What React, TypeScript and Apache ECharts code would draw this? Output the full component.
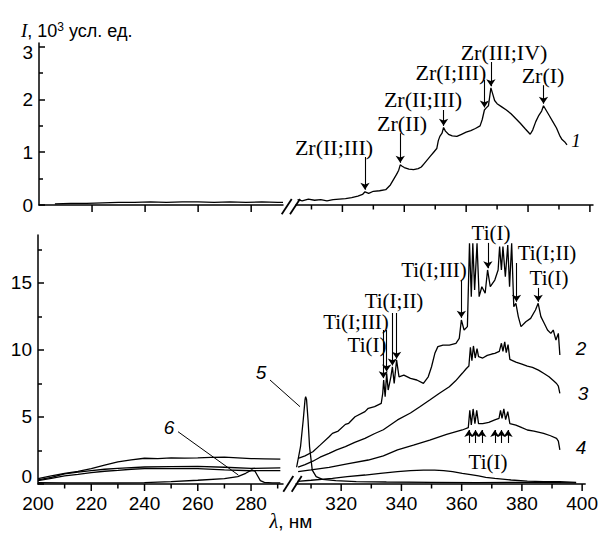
import { useEffect, useRef } from 'react';
import * as echarts from 'echarts';

// ---------- data (wavelength nm, intensity) ----------
// top panel, curve 1 (10^3 arb. units)
const curve1Left: number[][] = [[206,0.02],[212,0.03],[218,0.03],[224,0.04],[230,0.05],[236,0.05],[242,0.06],[248,0.05],[254,0.06],[260,0.06],[266,0.05],[272,0.06],[278,0.05],[284,0.06],[290,0.05],[292,0.05]];
const curve1Right: number[][] = [[305.5,0.10],[307,0.08],[309,0.11],[311,0.09],[313,0.1],[315,0.08],[317,0.1],[319,0.11],[321,0.12],[323,0.14],[325,0.17],[326.5,0.2],[327.3,0.25],[328.5,0.22],[330,0.26],[332,0.27],[334,0.29],[335.5,0.38],[336.5,0.48],[337.5,0.58],[338.2,0.66],[338.7,0.76],[339.2,0.74],[340,0.71],[341.5,0.68],[343,0.67],[344.5,0.69],[345.5,0.72],[346.5,0.79],[347.5,0.86],[348.5,0.93],[349.5,1.0],[350.5,1.07],[351,1.22],[351.5,1.30],[352.2,1.36],[352.7,1.47],[353.3,1.40],[354.3,1.34],[355.5,1.31],[357,1.30],[358.5,1.34],[360,1.38],[361.5,1.41],[363,1.45],[364.5,1.50],[365.2,1.62],[365.9,1.80],[366.5,1.84],[367.2,1.88],[367.6,2.05],[368,2.22],[368.6,2.10],[369.2,1.98],[370,1.92],[371.5,1.86],[373,1.80],[374.5,1.73],[376,1.64],[377.5,1.55],[379,1.45],[380.7,1.34],[381.5,1.42],[382.5,1.58],[383.5,1.70],[384.4,1.78],[385,1.88],[385.8,1.80],[386.8,1.70],[388,1.58],[389.2,1.46],[390.2,1.32],[391,1.24],[391.8,1.20],[392.6,1.14]];

// bottom panel
const curve2Left: number[][] = [[200,0.4],[205,0.6],[210,0.8],[215,0.95],[220,1.15],[225,1.4],[230,1.65],[235,1.8],[240,1.92],[245,1.9],[250,1.95],[255,1.93],[260,1.95],[265,1.98],[270,2.0],[275,1.95],[280,1.9],[285,1.88],[291,1.85]];
const curve3Left: number[][] = [[200,0.3],[205,0.5],[210,0.75],[215,0.88],[220,1.0],[225,1.1],[230,1.17],[235,1.22],[240,1.27],[250,1.3],[260,1.32],[270,1.25],[280,1.17],[291,1.2]];
const curve4Left: number[][] = [[200,0.25],[205,0.42],[210,0.6],[215,0.72],[220,0.85],[225,0.95],[230,1.02],[235,1.1],[240,1.15],[250,1.15],[260,1.15],[270,1.05],[280,0.99],[291,1.0]];
const curve6Left: number[][] = [[200,0.1],[210,0.09],[220,0.08],[230,0.09],[240,0.1],[250,0.18],[260,0.28],[270,0.4],[275,0.55],[278,0.8],[280.3,1.05],[281.5,0.95],[282.5,0.6],[283.5,0.25],[285,0.12],[288,0.08],[291,0.08]];

const curve2Right: number[][] = [[305.7,1.92],[308,2.1],[310.6,2.41],[313,2.9],[316,3.53],[317.1,3.78],[319,3.95],[321.4,4.45],[322.5,4.53],[324.6,5.02],[327.9,5.40],[329,5.65],[331.1,5.77],[333.3,6.02],[333.8,6.77],[334.1,7.76],[334.6,6.52],[335.1,8.26],[335.6,7.01],[336.5,8.0],[337.0,8.75],[337.6,7.51],[338.4,9.25],[339.2,8.0],[340.8,8.13],[343.0,7.88],[345.1,7.76],[347.3,7.51],[348.9,8.0],[350.0,8.75],[351.1,9.75],[352.1,10.25],[353.8,10.37],[355.9,10.37],[358.1,10.5],[359.2,10.87],[359.9,12.24],[360.8,11.49],[361.9,11.74],[362.6,17.96],[363.2,13.98],[363.7,17.96],[364.3,14.48],[365.1,17.96],[365.8,13.98],[366.7,14.72],[367.8,14.23],[368.6,15.97],[369.5,14.72],[371.0,15.22],[372.1,15.97],[372.6,17.71],[373.2,15.97],[373.7,17.71],[374.5,15.47],[375.3,17.83],[375.9,14.72],[376.6,17.96],[377.3,13.23],[378.0,13.48],[378.8,12.49],[379.7,11.74],[381.3,12.11],[382.9,12.36],[384.5,12.98],[385.4,13.48],[386.3,12.49],[387.4,11.99],[388.5,11.49],[389.6,11.24],[390.4,11.49],[391.3,10.74],[392.1,11.24],[392.6,9.63]];
const curve3Right: number[][] = [[305.7,1.26],[308,1.45],[310.6,1.7],[313,2.0],[316,2.29],[318.5,2.55],[321.4,2.79],[324.5,3.1],[327.9,3.4],[331,3.75],[334,4.05],[338.7,4.78],[343,5.3],[346,5.75],[349.4,6.27],[352.5,6.75],[355.9,7.26],[358,7.7],[360.2,8.26],[361.5,8.6],[362.4,8.8],[362.9,10.2],[363.4,9.2],[363.9,10.3],[364.5,9.4],[365.1,10.1],[365.6,9.5],[367,9.4],[368.5,9.6],[370,9.7],[371,9.75],[372.5,9.9],[373.2,10.5],[373.7,9.9],[374.3,10.6],[374.8,9.8],[375.4,10.4],[376,9.3],[378,9.1],[380,8.95],[381.8,8.8],[383.5,8.7],[385.5,8.5],[387.2,8.26],[389,8.0],[390.5,7.7],[391.5,7.5],[392.1,7.3],[392.6,6.77]];
const curve4Right: number[][] = [[305.7,0.92],[310,1.05],[316,1.24],[322,1.5],[329,1.79],[334,2.1],[338.7,2.54],[344,2.9],[349.4,3.28],[355,3.7],[360.2,4.03],[362.2,4.2],[362.7,5.5],[363.2,4.4],[363.8,5.6],[364.4,4.5],[365.0,5.5],[365.6,4.5],[367,4.5],[369,4.6],[371,4.78],[372.4,4.9],[372.9,5.5],[373.4,4.9],[374,5.6],[374.6,4.8],[375.3,5.4],[376,4.5],[378,4.4],[380,4.2],[381.8,4.03],[384,3.95],[387.2,3.78],[389.5,3.6],[391.5,3.4],[392.1,3.2],[392.6,2.54]];
const curve5Right: number[][] = [[305.2,1.25],[306.5,2.78],[307.4,4.78],[308.0,6.3],[308.2,6.51],[308.5,6.3],[309.0,4.78],[309.5,2.78],[310.4,1.04],[311.7,0.55],[313.8,0.35],[318.2,0.25],[325,0.18],[335,0.15],[350,0.12],[365,0.1],[380,0.12],[392,0.1],[398,0.08]];
const curve6Right: number[][] = [[305.5,0.2],[310,0.28],[317.1,0.42],[322,0.55],[327.9,0.67],[333,0.8],[338.7,0.92],[343,1.0],[347.3,1.04],[351,1.04],[354,1.0],[357,0.92],[360.2,0.8],[363,0.7],[365.6,0.6],[368,0.5],[371,0.42],[376.4,0.3],[381.8,0.22],[387.2,0.17],[392.6,0.17],[398,0.12]];

// axis ticks / labels
const leftMajor = [200, 220, 240, 260, 280];
const leftMinor = [210, 230, 250, 270, 290];
const rightMajor = [320, 340, 360, 380, 400];
const rightMinor = [310, 330, 350, 370, 390];
const topYMajor = [0, 1, 2, 3];
const topYMinor = [0.5, 1.5, 2.5];
const botYMajor = [0, 5, 10, 15];
const botYMinor = [2.5, 7.5, 12.5, 17.5];

// annotation arrows: [nm, from, to]
const zrArrows: number[][] = [[327.3,0.91,0.29],[338.7,1.36,0.8],[352.7,1.80,1.5],[365.9,2.37,1.85],[368.0,2.71,2.25],[385.0,2.27,1.92]];
const tiArrows: number[][] = [[334.0,11.49,7.9],[335.1,11.49,8.4],[337.0,12.76,8.85],[338.4,12.76,9.35],[359.9,15.22,12.4],[368.7,17.99,16.1],[378.2,16.49,13.6],[385.4,14.63,13.6]];
const tiUpArrows = [362.4, 364.6, 366.7, 371.0, 373.2, 375.4];

const zrLabels: [string, number, number][] = [['Zr(II;III)',334,147],['Zr(II)',402,123],['Zr(II;III)',423,99],['Zr(I;III)',451,72],['Zr(III;IV)',504,52],['Zr(I)',543,75]];
const tiLabels: [string, number, number][] = [['Ti(I)',367,345],['Ti(I;III)',356,322],['Ti(I;II)',394,301],['Ti(I;III)',434,270],['Ti(I)',491,233],['Ti(I;II)',547,253],['Ti(I)',549,278],['Ti(I)',488,462]];

const SANS = '"Liberation Sans", Arial, sans-serif';
const SERIF = '"Liberation Serif", "Times New Roman", serif';
const BLACK = '#000';

function xAxis(grid: number, min: number, max: number, labels?: number[]) {
  return {
    type: 'value', gridIndex: grid, min, max, position: 'bottom',
    axisLine: { show: true, onZero: false, lineStyle: { color: BLACK, width: 1.5 } },
    axisTick: { show: false },
    axisLabel: labels ? { show: true, customValues: labels, margin: 10, color: BLACK, fontSize: 19, fontFamily: SANS } : { show: false },
    splitLine: { show: false },
  };
}
function yAxis(grid: number, max: number, ticks: number[], len: number, line: boolean, labels?: number[], show = true) {
  return {
    type: 'value', gridIndex: grid, min: 0, max, show, position: 'left',
    axisLine: { show: line, onZero: false, lineStyle: { color: BLACK, width: 1.5 } },
    axisTick: { show: true, inside: true, length: len, customValues: ticks, lineStyle: { color: BLACK, width: 1.5 } },
    axisLabel: labels ? {
      show: true, customValues: labels, margin: 6, color: BLACK, fontSize: 19, fontFamily: SANS,
      formatter: (v: number) => (v === 0 && grid === 2 ? '{z|0}' : v === 3 && grid === 0 ? '{t|3}' : String(v)),
      rich: {
        z: { fontSize: 19, fontFamily: SANS, color: BLACK, padding: [0, 0, 16, 0] },
        t: { fontSize: 19, fontFamily: SANS, color: BLACK, padding: [12, 0, 0, 0] },
      },
    } : { show: false },
    splitLine: { show: false },
  };
}

function line(data: number[][], xi: number, yi: number, extra: any = {}) {
  return {
    type: 'line', data, xAxisIndex: xi, yAxisIndex: yi, showSymbol: false, symbol: 'none',
    lineStyle: { color: BLACK, width: 1.3 }, silent: true, animation: false, ...extra,
  };
}
function arrows(list: number[][]) {
  return {
    silent: true, symbol: ['none', 'arrow'], symbolSize: 7, animation: false,
    label: { show: false }, lineStyle: { color: BLACK, width: 1.1, type: 'solid' },
    itemStyle: { color: BLACK },
    emphasis: { disabled: true },
    data: list.map(([x, a, b]) => [{ coord: [x, a] }, { coord: [x, b] }]),
  };
}

const text = (t: string, x: number, y: number, font: string, extra: any = {}) => ({
  type: 'text', x, y, silent: true,
  style: { text: t, font, fill: BLACK, textAlign: 'center', align: 'center', textVerticalAlign: 'middle', verticalAlign: 'middle', ...extra },
});
const seg = (x1: number, y1: number, x2: number, y2: number, w = 1) => ({
  type: 'line', silent: true, shape: { x1, y1, x2, y2 }, style: { stroke: BLACK, lineWidth: w },
});

export default function App() {
  const ref = useRef<HTMLDivElement>(null);
  useEffect(() => {
    if (!ref.current) return;
    const chart = echarts.init(ref.current, undefined, { renderer: 'svg' });
    const graphic: any[] = [];
    zrLabels.forEach(([t, x, y]) => graphic.push(text(t, x, y, `22px ${SERIF}`)));
    tiLabels.forEach(([t, x, y]) => graphic.push(text(t, x, y, `21px ${SERIF}`)));
    graphic.push(text('1', 576, 140, `italic 19px ${SERIF}`));
    graphic.push(text('2', 581, 348, `italic 19px ${SANS}`));
    graphic.push(text('3', 583, 393, `italic 19px ${SANS}`));
    graphic.push(text('4', 581, 447, `italic 19px ${SANS}`));
    graphic.push(text('5', 261, 372, `italic 19px ${SANS}`));
    graphic.push(text('6', 169, 427, `italic 19px ${SANS}`));
    graphic.push(seg(270, 380, 300, 406.7));
    graphic.push(seg(178, 431.7, 238.3, 475));
    // axis breaks
    graphic.push(seg(281.7, 214.3, 291.7, 199, 1.8));
    graphic.push(seg(290, 214.3, 300, 199, 1.8));
    graphic.push(seg(283.3, 491.7, 293.3, 476, 1.8));
    graphic.push(seg(291.7, 491.7, 301.7, 476, 1.8));
    // axis titles
    graphic.push({
      type: 'text', x: 21, y: 21, silent: true,
      style: {
        text: '{i|I}{n|, 10}{s|3}{n| усл. ед.}', fill: BLACK,
        rich: {
          i: { font: `italic 19px ${SERIF}`, fill: BLACK, verticalAlign: 'bottom' },
          n: { font: `18px ${SANS}`, fill: BLACK, verticalAlign: 'bottom' },
          s: { font: `12px ${SANS}`, fill: BLACK, verticalAlign: 'top' },
        },
      },
    });
    graphic.push({
      type: 'text', x: 291, y: 521, silent: true,
      style: {
        text: '{i|λ}{n|, нм}', textAlign: 'center', align: 'center', textVerticalAlign: 'middle', verticalAlign: 'middle', fill: BLACK,
        rich: {
          i: { font: `italic 20px ${SERIF}`, fill: BLACK },
          n: { font: `19px ${SANS}`, fill: BLACK },
        },
      },
    });

    chart.setOption({
      animation: false,
      backgroundColor: '#fff',
      grid: [
        { left: 39, top: 43, width: 244, height: 162 },
        { left: 296, top: 43, width: 297, height: 162 },
        { left: 38, top: 235, width: 245, height: 249 },
        { left: 296, top: 235, width: 297, height: 249 },
      ],
      xAxis: [
        xAxis(0, 200, 292),
        xAxis(1, 305, 401),
        xAxis(2, 200, 292, leftMajor),
        xAxis(3, 305, 401, rightMajor),
      ],
      yAxis: [
        yAxis(0, 3.07, topYMajor, 6, true, topYMajor),
        yAxis(0, 3.07, topYMinor, 4, false),
        yAxis(1, 3.07, [], 0, false, undefined, false),
        yAxis(2, 18.58, botYMajor, 6, true, botYMajor),
        yAxis(2, 18.58, botYMinor, 4, false),
        yAxis(3, 18.58, [], 0, false, undefined, false),
      ],
      series: [
        line(curve1Left, 0, 0),
        line(curve1Right, 1, 2, { markLine: arrows(zrArrows) }),
        line(curve2Left, 2, 3),
        line(curve3Left, 2, 3),
        line(curve4Left, 2, 3),
        line(curve6Left, 2, 3),
        line(curve2Right, 3, 5, { markLine: arrows(tiArrows) }),
        line(curve3Right, 3, 5),
        line(curve4Right, 3, 5, { markLine: arrows(tiUpArrows.map((x) => [x, 3.06, 4.03])) }),
        line(curve5Right, 3, 5),
        line(curve6Right, 3, 5),
      ],
      graphic,
    });

    // x-axis tick marks, positioned through each axis' scale
    const tickSets: [number, number, number[], number[]][] = [
      [0, 0, leftMajor.slice(1), []],
      [1, 2, rightMajor, rightMinor],
      [2, 3, leftMajor.slice(1), leftMinor],
      [3, 5, rightMajor, rightMinor],
    ];
    const ticks: any[] = [];
    tickSets.forEach(([xi, yi, major, minor]) => {
      const y0 = chart.convertToPixel({ yAxisIndex: yi } as any, 0) as unknown as number;
      const add = (v: number, len: number) => {
        const x = chart.convertToPixel({ xAxisIndex: xi } as any, v) as unknown as number;
        if (typeof x === 'number' && typeof y0 === 'number' && isFinite(x) && isFinite(y0)) {
          ticks.push(seg(x, y0, x, y0 + len, 1.5));
        }
      };
      major.forEach((v) => add(v, 7));
      minor.forEach((v) => add(v, 4.5));
    });
    chart.setOption({ graphic: [...graphic, ...ticks] });

    return () => chart.dispose();
  }, []);
  return <div ref={ref} style={{ position: 'absolute', left: 0, top: 0, width: 601, height: 535 }} />;
}
